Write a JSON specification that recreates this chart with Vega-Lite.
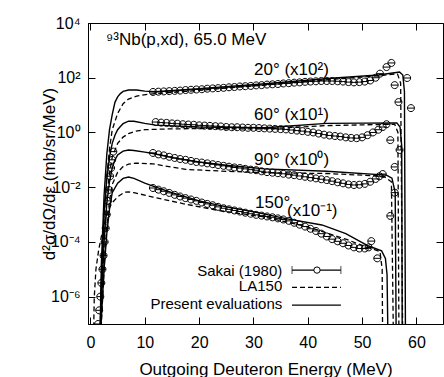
{
"$schema":"https://vega.github.io/schema/vega-lite/v6.json",
"width":355,"height":301,
"autosize":{"type":"none"},
"padding":{"left":88,"top":23,"right":1,"bottom":53},
"background":"white",
"config":{
 "view":{"stroke":"black","strokeWidth":1},
 "font":"Liberation Sans",
 "axis":{"labelFont":"Liberation Sans","titleFont":"Liberation Sans","labelFontSize":16,"titleFontSize":17,"titleFontWeight":"normal","labelColor":"black","titleColor":"black","domainColor":"black","tickColor":"black","grid":false,"tickSize":-7,"tickWidth":1}
},
"datasets":{
"present":[
{"angle":"20","E":1.7,"xs":1e-8},{"angle":"20","E":2.0,"xs":1.58e-5},{"angle":"20","E":2.5,"xs":0.005},{"angle":"20","E":3.0,"xs":0.158},{"angle":"20","E":3.5,"xs":1.26},{"angle":"20","E":4.0,"xs":4.47},{"angle":"20","E":4.5,"xs":12.6},{"angle":"20","E":5.0,"xs":20.0},{"angle":"20","E":5.5,"xs":26.3},{"angle":"20","E":6.0,"xs":31.6},{"angle":"20","E":7.0,"xs":35.5},{"angle":"20","E":8.5,"xs":35.5},{"angle":"20","E":10,"xs":32.4},{"angle":"20","E":12,"xs":30.9},{"angle":"20","E":20,"xs":39.8},{"angle":"20","E":31,"xs":57.5},{"angle":"20","E":45,"xs":97.7},{"angle":"20","E":53,"xs":126},{"angle":"20","E":56.9,"xs":162},{"angle":"20","E":57.5,"xs":126},{"angle":"20","E":57.8,"xs":31.6},{"angle":"20","E":58.0,"xs":1e-8},
{"angle":"60","E":1.7,"xs":1e-8},{"angle":"60","E":2.0,"xs":3.16e-6},{"angle":"60","E":2.5,"xs":0.001},{"angle":"60","E":3.0,"xs":0.02},{"angle":"60","E":3.5,"xs":0.126},{"angle":"60","E":4.0,"xs":0.398},{"angle":"60","E":4.5,"xs":0.794},{"angle":"60","E":5.0,"xs":1.26},{"angle":"60","E":5.5,"xs":1.66},{"angle":"60","E":6.0,"xs":2.09},{"angle":"60","E":7.0,"xs":2.57},{"angle":"60","E":8.0,"xs":2.57},{"angle":"60","E":10,"xs":2.14},{"angle":"60","E":12,"xs":1.86},{"angle":"60","E":20,"xs":1.58},{"angle":"60","E":32,"xs":1.48},{"angle":"60","E":43.5,"xs":2.14},{"angle":"60","E":56.4,"xs":2.24},{"angle":"60","E":57.0,"xs":1.58},{"angle":"60","E":57.3,"xs":0.316},{"angle":"60","E":57.4,"xs":1e-8},
{"angle":"90","E":1.7,"xs":1e-8},{"angle":"90","E":2.0,"xs":6.31e-7},{"angle":"90","E":2.5,"xs":1e-4},{"angle":"90","E":3.0,"xs":0.00251},{"angle":"90","E":3.5,"xs":0.0158},{"angle":"90","E":4.0,"xs":0.0501},{"angle":"90","E":4.5,"xs":0.1},{"angle":"90","E":5.0,"xs":0.151},{"angle":"90","E":6.0,"xs":0.209},{"angle":"90","E":7.0,"xs":0.229},{"angle":"90","E":8.0,"xs":0.219},{"angle":"90","E":10,"xs":0.191},{"angle":"90","E":11.5,"xs":0.17},{"angle":"90","E":15,"xs":0.12},{"angle":"90","E":20,"xs":0.0832},{"angle":"90","E":25,"xs":0.0631},{"angle":"90","E":32,"xs":0.0468},{"angle":"90","E":43.5,"xs":0.038},{"angle":"90","E":54.5,"xs":0.0275},{"angle":"90","E":55.5,"xs":0.0214},{"angle":"90","E":56.1,"xs":0.00631},{"angle":"90","E":56.3,"xs":1e-8},
{"angle":"150","E":1.7,"xs":1e-8},{"angle":"150","E":2.0,"xs":1.58e-7},{"angle":"150","E":2.5,"xs":1e-5},{"angle":"150","E":3.0,"xs":2e-4},{"angle":"150","E":3.5,"xs":0.00158},{"angle":"150","E":4.0,"xs":0.00631},{"angle":"150","E":5.0,"xs":0.0141},{"angle":"150","E":6.0,"xs":0.0209},{"angle":"150","E":7.0,"xs":0.0234},{"angle":"150","E":8.0,"xs":0.0209},{"angle":"150","E":10,"xs":0.0141},{"angle":"150","E":11.5,"xs":0.011},{"angle":"150","E":15,"xs":0.00631},{"angle":"150","E":20,"xs":0.00316},{"angle":"150","E":25,"xs":0.00191},{"angle":"150","E":31,"xs":0.00115},{"angle":"150","E":36,"xs":0.000708},{"angle":"150","E":42.6,"xs":0.000417},{"angle":"150","E":47,"xs":0.0002},{"angle":"150","E":51.2,"xs":0.0000708},{"angle":"150","E":53.6,"xs":0.0000468},{"angle":"150","E":54.3,"xs":0.0000251},{"angle":"150","E":54.6,"xs":6.31e-6},{"angle":"150","E":54.8,"xs":1e-8}
],
"la150":[
{"angle":"20","E":1.7,"xs":1e-8},{"angle":"20","E":2.0,"xs":3.16e-6},{"angle":"20","E":2.5,"xs":0.001},{"angle":"20","E":3.0,"xs":0.0251},{"angle":"20","E":3.5,"xs":0.251},{"angle":"20","E":4.0,"xs":1.26},{"angle":"20","E":5.0,"xs":5.01},{"angle":"20","E":6.0,"xs":11.2},{"angle":"20","E":7.0,"xs":16.6},{"angle":"20","E":8.5,"xs":21.4},{"angle":"20","E":10.8,"xs":25.1},{"angle":"20","E":14,"xs":28.2},{"angle":"20","E":17.5,"xs":31.6},{"angle":"20","E":25,"xs":41.7},{"angle":"20","E":32,"xs":53.7},{"angle":"20","E":45,"xs":89.1},{"angle":"20","E":53,"xs":117},{"angle":"20","E":56.5,"xs":141},{"angle":"20","E":57.1,"xs":63.1},{"angle":"20","E":57.5,"xs":1e-8},
{"angle":"60","E":1.7,"xs":1e-8},{"angle":"60","E":2.0,"xs":3.16e-7},{"angle":"60","E":2.5,"xs":1e-4},{"angle":"60","E":3.0,"xs":0.00398},{"angle":"60","E":3.5,"xs":0.0316},{"angle":"60","E":4.0,"xs":0.126},{"angle":"60","E":5.0,"xs":0.398},{"angle":"60","E":6.0,"xs":0.676},{"angle":"60","E":7.0,"xs":0.912},{"angle":"60","E":8.4,"xs":1.12},{"angle":"60","E":10,"xs":1.26},{"angle":"60","E":14.4,"xs":1.35},{"angle":"60","E":20,"xs":1.38},{"angle":"60","E":32,"xs":1.35},{"angle":"60","E":43.5,"xs":1.78},{"angle":"60","E":56,"xs":2.0},{"angle":"60","E":56.6,"xs":1.0},{"angle":"60","E":56.8,"xs":1e-8},
{"angle":"90","E":1.7,"xs":1e-8},{"angle":"90","E":2.0,"xs":1e-7},{"angle":"90","E":2.5,"xs":1e-5},{"angle":"90","E":3.0,"xs":3.98e-4},{"angle":"90","E":3.5,"xs":0.00316},{"angle":"90","E":4.0,"xs":0.0126},{"angle":"90","E":5.0,"xs":0.0355},{"angle":"90","E":6.0,"xs":0.0562},{"angle":"90","E":7.0,"xs":0.0692},{"angle":"90","E":8.4,"xs":0.0759},{"angle":"90","E":11.5,"xs":0.0708},{"angle":"90","E":17.5,"xs":0.0447},{"angle":"90","E":25,"xs":0.038},{"angle":"90","E":32,"xs":0.0339},{"angle":"90","E":43.5,"xs":0.0316},{"angle":"90","E":54,"xs":0.0251},{"angle":"90","E":55.4,"xs":0.0158},{"angle":"90","E":55.8,"xs":1e-8},
{"angle":"150","E":0.5,"xs":1e-8},{"angle":"150","E":0.7,"xs":1e-6},{"angle":"150","E":1.0,"xs":1e-5},{"angle":"150","E":1.5,"xs":5.01e-5},{"angle":"150","E":2.0,"xs":1.58e-4},{"angle":"150","E":2.5,"xs":3.98e-4},{"angle":"150","E":3.0,"xs":0.001},{"angle":"150","E":3.5,"xs":0.00178},{"angle":"150","E":4.0,"xs":0.00269},{"angle":"150","E":5.0,"xs":0.00447},{"angle":"150","E":6.3,"xs":0.00661},{"angle":"150","E":7.0,"xs":0.00676},{"angle":"150","E":8.0,"xs":0.00631},{"angle":"150","E":11.5,"xs":0.00437},{"angle":"150","E":17,"xs":0.00251},{"angle":"150","E":23.6,"xs":0.00141},{"angle":"150","E":32,"xs":0.000813},{"angle":"150","E":40,"xs":0.000355},{"angle":"150","E":47,"xs":0.000126},{"angle":"150","E":51,"xs":0.0000631},{"angle":"150","E":53.3,"xs":0.0000447},{"angle":"150","E":53.7,"xs":0.00001},{"angle":"150","E":53.8,"xs":1e-8}
],
"exp":[
{"angle":"20","E":4.0,"xs":0.1},{"angle":"20","E":4.2,"xs":0.1995},{"angle":"20","E":11.5,"xs":30.2},{"angle":"20","E":12.5,"xs":30.9},{"angle":"20","E":13.5,"xs":31.6},{"angle":"20","E":14.5,"xs":32.4},{"angle":"20","E":15.5,"xs":33.1},{"angle":"20","E":16.5,"xs":33.9},{"angle":"20","E":17.5,"xs":35.5},{"angle":"20","E":18.5,"xs":36.3},{"angle":"20","E":19.5,"xs":37.2},{"angle":"20","E":20.5,"xs":38.0},{"angle":"20","E":21.5,"xs":39.8},{"angle":"20","E":22.5,"xs":40.7},{"angle":"20","E":23.5,"xs":41.7},{"angle":"20","E":24.5,"xs":42.7},{"angle":"20","E":25.5,"xs":44.7},{"angle":"20","E":26.5,"xs":45.7},{"angle":"20","E":27.5,"xs":47.9},{"angle":"20","E":28.5,"xs":49.0},{"angle":"20","E":29.5,"xs":50.1},{"angle":"20","E":30.5,"xs":52.5},{"angle":"20","E":31.5,"xs":53.7},{"angle":"20","E":32.5,"xs":56.2},{"angle":"20","E":33.5,"xs":57.5},{"angle":"20","E":34.5,"xs":58.9},{"angle":"20","E":35.5,"xs":61.7},{"angle":"20","E":36.5,"xs":63.1},{"angle":"20","E":37.5,"xs":66.1},{"angle":"20","E":38.5,"xs":67.6},{"angle":"20","E":39.5,"xs":70.8},{"angle":"20","E":40.5,"xs":72.4},{"angle":"20","E":41.5,"xs":74.1},{"angle":"20","E":42.5,"xs":75.9},{"angle":"20","E":43.5,"xs":75.9},{"angle":"20","E":44.5,"xs":75.9},{"angle":"20","E":45.5,"xs":74.1},{"angle":"20","E":46.5,"xs":72.4},{"angle":"20","E":47.5,"xs":69.2},{"angle":"20","E":48.5,"xs":67.6},{"angle":"20","E":49.5,"xs":69.2},{"angle":"20","E":50.5,"xs":72.4},{"angle":"20","E":51.5,"xs":79.4},{"angle":"20","E":52.5,"xs":100},{"angle":"20","E":53.3,"xs":141},{"angle":"20","E":54.5,"xs":245},{"angle":"20","E":55.4,"xs":347},{"angle":"20","E":56.0,"xs":53.7},{"angle":"20","E":56.7,"xs":12.9},{"angle":"20","E":58.3,"xs":97.7},{"angle":"20","E":59.0,"xs":7.76},
{"angle":"60","E":3.6,"xs":0.0251},{"angle":"60","E":3.8,"xs":0.0501},{"angle":"60","E":12,"xs":2.40},{"angle":"60","E":13,"xs":2.29},{"angle":"60","E":14,"xs":2.24},{"angle":"60","E":15,"xs":2.14},{"angle":"60","E":16,"xs":2.09},{"angle":"60","E":17,"xs":2.00},{"angle":"60","E":18,"xs":1.95},{"angle":"60","E":19,"xs":1.91},{"angle":"60","E":20,"xs":1.82},{"angle":"60","E":21,"xs":1.78},{"angle":"60","E":22,"xs":1.74},{"angle":"60","E":23,"xs":1.70},{"angle":"60","E":24,"xs":1.66},{"angle":"60","E":25,"xs":1.58},{"angle":"60","E":26,"xs":1.55},{"angle":"60","E":27,"xs":1.55},{"angle":"60","E":28,"xs":1.51},{"angle":"60","E":29,"xs":1.48},{"angle":"60","E":30,"xs":1.48},{"angle":"60","E":31,"xs":1.45},{"angle":"60","E":32,"xs":1.41},{"angle":"60","E":33,"xs":1.38},{"angle":"60","E":34,"xs":1.35},{"angle":"60","E":35,"xs":1.32},{"angle":"60","E":36,"xs":1.29},{"angle":"60","E":37,"xs":1.23},{"angle":"60","E":38,"xs":1.17},{"angle":"60","E":39,"xs":1.12},{"angle":"60","E":40,"xs":1.05},{"angle":"60","E":41,"xs":1.0},{"angle":"60","E":42,"xs":0.912},{"angle":"60","E":43,"xs":0.832},{"angle":"60","E":44,"xs":0.776},{"angle":"60","E":45,"xs":0.741},{"angle":"60","E":46,"xs":0.708},{"angle":"60","E":47,"xs":0.661},{"angle":"60","E":48,"xs":0.631},{"angle":"60","E":49,"xs":0.617},{"angle":"60","E":50,"xs":0.661},{"angle":"60","E":51,"xs":0.794},{"angle":"60","E":52,"xs":1.0},{"angle":"60","E":53,"xs":1.26},{"angle":"60","E":53.8,"xs":1.58},{"angle":"60","E":54.5,"xs":2.0},{"angle":"60","E":55.2,"xs":0.525},{"angle":"60","E":56.0,"xs":0.055},{"angle":"60","E":56.9,"xs":0.229},
{"angle":"90","E":3.2,"xs":0.00316},{"angle":"90","E":3.4,"xs":0.00794},{"angle":"90","E":11.5,"xs":0.178},{"angle":"90","E":12.5,"xs":0.158},{"angle":"90","E":13.5,"xs":0.145},{"angle":"90","E":14.5,"xs":0.129},{"angle":"90","E":15.5,"xs":0.117},{"angle":"90","E":16.5,"xs":0.107},{"angle":"90","E":17.5,"xs":0.1},{"angle":"90","E":18.5,"xs":0.0912},{"angle":"90","E":19.5,"xs":0.0832},{"angle":"90","E":20.5,"xs":0.0794},{"angle":"90","E":21.5,"xs":0.0741},{"angle":"90","E":22.5,"xs":0.0692},{"angle":"90","E":23.5,"xs":0.0646},{"angle":"90","E":24.5,"xs":0.0603},{"angle":"90","E":25.5,"xs":0.0562},{"angle":"90","E":26.5,"xs":0.0525},{"angle":"90","E":27.5,"xs":0.0501},{"angle":"90","E":28.5,"xs":0.0468},{"angle":"90","E":29.5,"xs":0.0437},{"angle":"90","E":30.5,"xs":0.0417},{"angle":"90","E":31.5,"xs":0.038},{"angle":"90","E":32.5,"xs":0.0355},{"angle":"90","E":33.5,"xs":0.0339},{"angle":"90","E":34.5,"xs":0.0324},{"angle":"90","E":35.5,"xs":0.0309},{"angle":"90","E":36.5,"xs":0.0288},{"angle":"90","E":37.5,"xs":0.0275},{"angle":"90","E":38.5,"xs":0.0257},{"angle":"90","E":39.5,"xs":0.024},{"angle":"90","E":40.5,"xs":0.0224},{"angle":"90","E":41.5,"xs":0.0209},{"angle":"90","E":42.5,"xs":0.0195},{"angle":"90","E":43.5,"xs":0.0182},{"angle":"90","E":44.5,"xs":0.0166},{"angle":"90","E":45.5,"xs":0.0151},{"angle":"90","E":46.5,"xs":0.0138},{"angle":"90","E":47.5,"xs":0.0126},{"angle":"90","E":48.5,"xs":0.012},{"angle":"90","E":49.5,"xs":0.0123},{"angle":"90","E":50.5,"xs":0.0132},{"angle":"90","E":51.5,"xs":0.0158},{"angle":"90","E":52.5,"xs":0.02},{"angle":"90","E":53.2,"xs":0.0251},{"angle":"90","E":53.8,"xs":0.0302},{"angle":"90","E":56.0,"xs":0.00631},
{"angle":"150","E":1.4,"xs":1e-7},{"angle":"150","E":1.6,"xs":3.16e-7},{"angle":"150","E":1.8,"xs":1e-6},{"angle":"150","E":2.0,"xs":3.16e-6},{"angle":"150","E":2.2,"xs":1e-5},{"angle":"150","E":2.4,"xs":3.16e-5},{"angle":"150","E":2.6,"xs":1e-4},{"angle":"150","E":2.8,"xs":3.16e-4},{"angle":"150","E":3.0,"xs":0.001},
{"angle":"150","E":11.5,"xs":0.00933},{"angle":"150","E":12.5,"xs":0.00813},{"angle":"150","E":13.5,"xs":0.00708},{"angle":"150","E":14.5,"xs":0.00617},{"angle":"150","E":15.5,"xs":0.00525},{"angle":"150","E":16.5,"xs":0.00457},{"angle":"150","E":17.5,"xs":0.00398},{"angle":"150","E":18.5,"xs":0.00355},{"angle":"150","E":19.5,"xs":0.00316},{"angle":"150","E":20.5,"xs":0.00275},{"angle":"150","E":21.5,"xs":0.00245},{"angle":"150","E":22.5,"xs":0.00219},{"angle":"150","E":23.5,"xs":0.00191},{"angle":"150","E":24.5,"xs":0.0017},{"angle":"150","E":25.5,"xs":0.00155},{"angle":"150","E":26.5,"xs":0.00141},{"angle":"150","E":27.5,"xs":0.00129},{"angle":"150","E":28.5,"xs":0.00117},{"angle":"150","E":29.5,"xs":0.00107},{"angle":"150","E":30.5,"xs":0.000977},{"angle":"150","E":31.5,"xs":0.000912},{"angle":"150","E":32.5,"xs":0.000851},{"angle":"150","E":33.5,"xs":0.000794},{"angle":"150","E":34.5,"xs":0.000724},{"angle":"150","E":35.5,"xs":0.000661},{"angle":"150","E":36.5,"xs":0.000589},{"angle":"150","E":37.5,"xs":0.000501},{"angle":"150","E":38.5,"xs":0.000427},{"angle":"150","E":39.5,"xs":0.000363},{"angle":"150","E":40.5,"xs":0.000302},{"angle":"150","E":41.5,"xs":0.000251},{"angle":"150","E":42.5,"xs":0.0002},{"angle":"150","E":43.5,"xs":0.000158},{"angle":"150","E":44.5,"xs":0.000126},{"angle":"150","E":45.5,"xs":0.000105},{"angle":"150","E":46.5,"xs":0.0000891},{"angle":"150","E":47.5,"xs":0.0000741},{"angle":"150","E":48.5,"xs":0.0000631},{"angle":"150","E":49.5,"xs":0.0000575},{"angle":"150","E":50.5,"xs":0.0000575},{"angle":"150","E":51.2,"xs":0.0000631},{"angle":"150","E":51.7,"xs":0.000107},{"angle":"150","E":52.8,"xs":0.0000251},{"angle":"150","E":55.2,"xs":0.000891}
],
"notes":[
{"E":2.85,"xs":1570,"t":"⁹³Nb(p,xd), 65.0 MeV"},
{"E":30.1,"xs":126,"t":"20° (x10²)"},
{"E":30.1,"xs":2.85,"t":"60° (x10¹)"},
{"E":30.1,"xs":0.0646,"t":"90° (x10⁰)"},
{"E":30.3,"xs":0.00174,"t":"150°"},
{"E":36.2,"xs":0.000891,"t":"(x10⁻¹)"}
],
"legtext":[
{"E":35.3,"xs":5.62e-6,"t":"Sakai (1980)"},
{"E":35.3,"xs":1.58e-6,"t":"LA150"},
{"E":35.3,"xs":3.55e-7,"t":"Present evaluations"}
],
"legline":[
{"k":"Sakai","E":37.1,"E2":46.1,"xs":9.33e-6},
{"k":"LA150","E":37.1,"E2":46.1,"xs":2.19e-6},
{"k":"Present","E":37.1,"E2":46.1,"xs":4.9e-7}
],
"legcap":[{"E":37.1,"xs":9.33e-6},{"E":46.1,"xs":9.33e-6}],
"legpt":[{"E":41.7,"xs":9.33e-6}]
},
"resolve":{"axis":{"x":"independent","y":"independent"}},
"layer":[
{"data":{"name":"present"},
 "mark":{"type":"line","color":"black","strokeWidth":1.4,"clip":true},
 "encoding":{
  "x":{"field":"E","type":"quantitative","scale":{"domain":[-0.46,64.9],"nice":false,"zero":false},
       "axis":{"orient":"bottom","values":[0,10,20,30,40,50,60],"title":"Outgoing Deuteron Energy (MeV)","labelPadding":17,"titleY":37,"titleBaseline":"top"}},
  "y":{"field":"xs","type":"quantitative","scale":{"type":"log","domain":[1e-7,1e4],"nice":false},
       "axis":{"orient":"left","values":[1e-6,1e-4,1e-2,1,100,10000],"labelPadding":15,"titlePadding":-8,
        "labelExpr":"datum.value > 5000 ? '10⁴' : datum.value > 50 ? '10²' : datum.value > 0.5 ? '10⁰' : datum.value > 0.005 ? '10⁻²' : datum.value > 0.00005 ? '10⁻⁴' : '10⁻⁶'",
        "title":"d²σ/dΩ/dε (mb/sr/MeV)"}},
  "detail":{"field":"angle"}}},
{"data":{"name":"present"},
 "mark":{"type":"point","opacity":0},
 "encoding":{
  "x":{"field":"E","type":"quantitative","axis":{"orient":"top","values":[0,10,20,30,40,50,60],"labels":false,"title":null,"domain":false}},
  "y":{"field":"xs","type":"quantitative","axis":{"orient":"right","values":[1e-6,1e-4,1e-2,1,100,10000],"labels":false,"title":null,"domain":false}}}},
{"data":{"name":"la150"},
 "mark":{"type":"line","color":"black","strokeWidth":1.3,"strokeDash":[5,3],"clip":true},
 "encoding":{
  "x":{"field":"E","type":"quantitative","axis":null},
  "y":{"field":"xs","type":"quantitative","axis":null},
  "detail":{"field":"angle"}}},
{"data":{"name":"exp"},
 "mark":{"type":"point","shape":"M-1,0A1,1,0,1,1,1,0A1,1,0,1,1,-1,0M-1,0L1,0","size":49,"filled":false,"color":"black","strokeWidth":1,"opacity":1,"clip":true},
 "encoding":{
  "x":{"field":"E","type":"quantitative","axis":null},
  "y":{"field":"xs","type":"quantitative","axis":null}}},
{"data":{"name":"notes"},
 "mark":{"type":"text","align":"left","baseline":"alphabetic","fontSize":17,"font":"Liberation Sans","color":"black"},
 "encoding":{
  "x":{"field":"E","type":"quantitative","axis":null},
  "y":{"field":"xs","type":"quantitative","axis":null},
  "text":{"field":"t"}}},
{"data":{"name":"legtext"},
 "mark":{"type":"text","align":"right","baseline":"alphabetic","fontSize":15,"font":"Liberation Sans","color":"black"},
 "encoding":{
  "x":{"field":"E","type":"quantitative","axis":null},
  "y":{"field":"xs","type":"quantitative","axis":null},
  "text":{"field":"t"}}},
{"data":{"name":"legline"},
 "transform":[{"filter":"datum.k !== 'LA150'"}],
 "mark":{"type":"rule","color":"black","strokeWidth":1.3},
 "encoding":{
  "x":{"field":"E","type":"quantitative","axis":null},
  "x2":{"field":"E2"},
  "y":{"field":"xs","type":"quantitative","axis":null}}},
{"data":{"name":"legline"},
 "transform":[{"filter":"datum.k === 'LA150'"}],
 "mark":{"type":"rule","color":"black","strokeWidth":1.3,"strokeDash":[5,3]},
 "encoding":{
  "x":{"field":"E","type":"quantitative","axis":null},
  "x2":{"field":"E2"},
  "y":{"field":"xs","type":"quantitative","axis":null}}},
{"data":{"name":"legcap"},
 "mark":{"type":"tick","orient":"vertical","color":"black","size":8,"thickness":1},
 "encoding":{
  "x":{"field":"E","type":"quantitative","axis":null},
  "y":{"field":"xs","type":"quantitative","axis":null}}},
{"data":{"name":"legpt"},
 "mark":{"type":"point","shape":"circle","size":40,"filled":true,"fill":"white","stroke":"black","strokeWidth":1,"opacity":1},
 "encoding":{
  "x":{"field":"E","type":"quantitative","axis":null},
  "y":{"field":"xs","type":"quantitative","axis":null}}}
]
}
